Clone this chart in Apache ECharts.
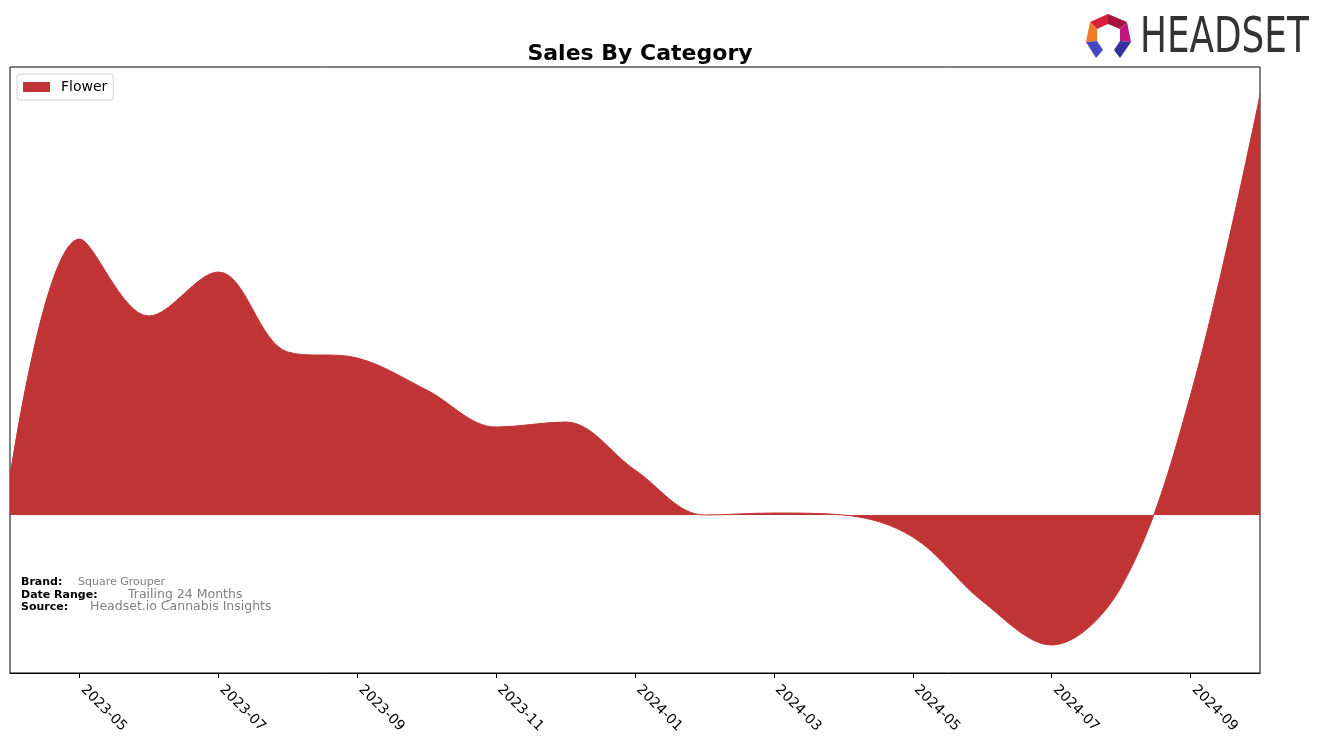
<!DOCTYPE html>
<html>
<head>
<meta charset="utf-8">
<script src="https://cdn.jsdelivr.net/npm/echarts@6/dist/echarts.min.js"></script>
<style>html,body{margin:0;padding:0;background:#fff;}#c{width:1324px;height:743px;}</style>
</head>
<body>
<div id="c"></div>
<script>
var months = ["2023-04","2023-05","2023-06","2023-07","2023-08","2023-09","2023-10","2023-11","2023-12","2024-01","2024-02","2024-03","2024-04","2024-05","2024-06","2024-07","2024-08","2024-09","2024-10"];
var flower = [38, 276, 199, 243, 163, 157, 125, 88, 93, 45, 0, 2, 0, -22, -86, -130, -72, 120, 420];
var seriesName = "Flower";

var chart = echarts.init(document.getElementById('c'));
var every2 = function (idx) { return idx % 2 === 1; };
var option = {
  animation: false,
  backgroundColor: '#fff',
  title: {
    text: 'Sales By Category',
    left: 635, top: 38, textAlign: 'center',
    textStyle: { fontFamily: 'DejaVu Sans', fontWeight: 'bold', fontSize: 22, color: '#000' }
  },
  legend: {
    left: 17, top: 74,
    data: [seriesName],
    itemWidth: 27, itemHeight: 10, itemGap: 10,
    padding: [6, 6, 6, 6],
    borderColor: '#d0d0d0', borderWidth: 1, borderRadius: 3,
    backgroundColor: '#fff',
    icon: 'rect',
    textStyle: { fontFamily: 'DejaVu Sans', fontSize: 14, color: '#000', padding: [0, 0, 0, 6] }
  },
  grid: {
    left: 10, right: 64, top: 67, bottom: 70,
    show: true, borderColor: '#000', borderWidth: 1, containLabel: false
  },
  xAxis: {
    type: 'category', data: months, boundaryGap: false,
    axisLine: { show: true, onZero: false, lineStyle: { color: '#000', width: 1 } },
    axisTick: { show: true, interval: every2, length: 5, lineStyle: { color: '#000' } },
    axisLabel: { interval: every2, rotate: -45, fontFamily: 'DejaVu Sans', fontSize: 14, color: '#000', margin: 11, padding: [0, 0, 0, 5] },
    splitLine: { show: false }
  },
  yAxis: {
    type: 'value', min: -158, max: 448,
    axisLine: { show: false }, axisTick: { show: false }, axisLabel: { show: false }, splitLine: { show: false }
  },
  series: [{
    name: seriesName, type: 'line', data: flower, smooth: 0.35, symbol: 'none',
    itemStyle: { color: '#c13435' },
    lineStyle: { color: '#c13435', width: 1 },
    areaStyle: { color: '#c13435', opacity: 1, origin: 0 }
  }],
  graphic: [
    { type: 'text', left: 21, top: 577, style: { text: 'Brand:', font: 'bold 11px "DejaVu Sans"', fill: '#000' } },
    { type: 'text', left: 78, top: 577, style: { text: 'Square Grouper', font: '11px "DejaVu Sans"', fill: '#808080' } },
    { type: 'text', left: 21, top: 590, style: { text: 'Date Range:', font: 'bold 11px "DejaVu Sans"', fill: '#000' } },
    { type: 'text', left: 128, top: 588, style: { text: 'Trailing 24 Months', font: '12.5px "DejaVu Sans"', fill: '#808080' } },
    { type: 'text', left: 21, top: 602, style: { text: 'Source:', font: 'bold 11px "DejaVu Sans"', fill: '#000' } },
    { type: 'text', left: 90, top: 600, style: { text: 'Headset.io Cannabis Insights', font: '12.5px "DejaVu Sans"', fill: '#808080' } },
    // logo
    { type: 'polygon', shape: { points: [[1090,22],[1108,14],[1108,24],[1097,29]] }, style: { fill: '#d8203b' } },
    { type: 'polygon', shape: { points: [[1108,14],[1127,22],[1120,29],[1108,24]] }, style: { fill: '#a3173c' } },
    { type: 'polygon', shape: { points: [[1090,22],[1097,29],[1097,41],[1086,42]] }, style: { fill: '#f37b28' } },
    { type: 'polygon', shape: { points: [[1127,22],[1131,42],[1120,41],[1120,29]] }, style: { fill: '#c1177e' } },
    { type: 'polygon', shape: { points: [[1086,42],[1097,41],[1103,50],[1096,58]] }, style: { fill: '#4747c4' } },
    { type: 'polygon', shape: { points: [[1131,42],[1120,41],[1114,50],[1120,58]] }, style: { fill: '#33339a' } },
    { type: 'text', x: 1140, y: 14, scaleX: 0.716, style: { text: 'HEADSET', font: '50px "DejaVu Sans"', fill: '#333333' } }
  ]
};
chart.setOption(option);
</script>
</body>
</html>
